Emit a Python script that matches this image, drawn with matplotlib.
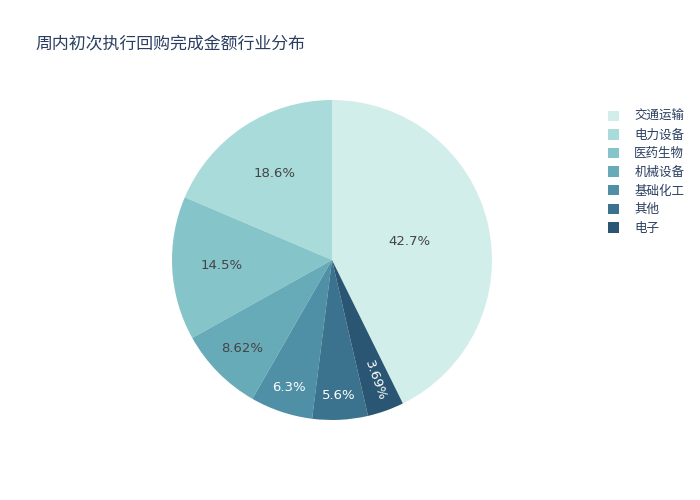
import numpy as np
import matplotlib.pyplot as plt
from matplotlib.patches import Patch

plt.rcParams['font.family'] = ['Noto Sans CJK SC', 'DejaVu Sans']

# legend order (descending)
labels = ["交通运输", "电力设备", "医药生物", "机械设备", "基础化工", "其他", "电子"]
values = [42.7, 18.6, 14.5, 8.62, 6.3, 5.6, 3.69]
pct_text = ["42.7%", "18.6%", "14.5%", "8.62%", "6.3%", "5.6%", "3.69%"]
colors = ["#d1eeea", "#a8dbd9", "#85c4c9", "#68abb8", "#4f90a6", "#3b738f", "#2a5674"]
text_colors = ["#444444", "#444444", "#444444", "#444444", "white", "white", "white"]
# radial position of the inside labels (fraction of radius)
text_r = [0.50, 0.65, 0.69, 0.79, 0.84, 0.85, 0.80]

fig = plt.figure(figsize=(7, 5), dpi=100)
ax = fig.add_axes([332/700 - 160/700, 1 - 260/500 - 160/500, 320/700, 320/500])

total = sum(values)
start = 90 - 360 * values[0] / total
wedges, _ = ax.pie(values, colors=colors, startangle=start, counterclock=True,
                   wedgeprops=dict(linewidth=0))
ax.set_aspect('equal')
ax.set_xlim(-1, 1)
ax.set_ylim(-1, 1)

for i, w in enumerate(wedges):
    mid = np.deg2rad((w.theta1 + w.theta2) / 2)
    x, y = text_r[i] * np.cos(mid), text_r[i] * np.sin(mid)
    rot = 0
    if labels[i] == "电子":
        rot = np.rad2deg(mid)
    ax.text(x, y, pct_text[i], ha='center', va='center', fontsize=9.5,
            color=text_colors[i], rotation=rot, rotation_mode='anchor',
            family=['DejaVu Sans'])

fig.text(35/700, 1 - 44/500, "周内初次执行回购完成金额行业分布", fontsize=12.2,
         color="#2a3f5f", va='center', ha='left')

handles = [Patch(facecolor=c, edgecolor='none') for c in colors]
leg = fig.legend(handles, labels, loc='upper left', bbox_to_anchor=(603/700, 1 - 105/500),
                 frameon=False, fontsize=9, handlelength=0.9, handleheight=0.9,
                 labelspacing=0.45, handletextpad=1.2, borderaxespad=0)
for t in leg.get_texts():
    t.set_color("#2a3f5f")

fig.savefig("out.png", dpi=100)
